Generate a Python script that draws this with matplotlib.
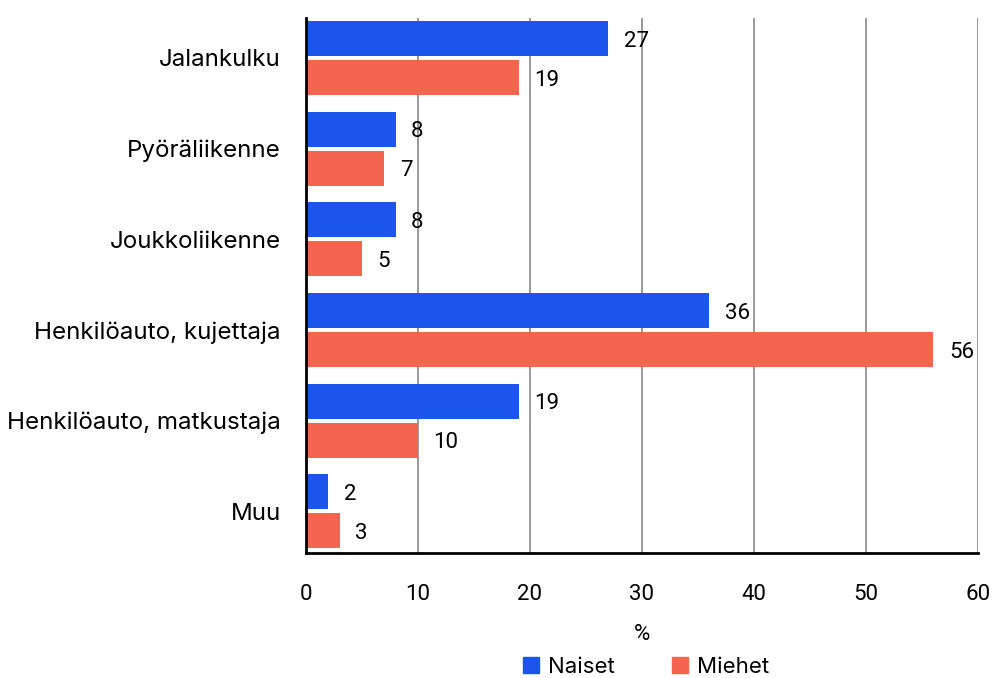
import numpy as np
import matplotlib.pyplot as plt
from matplotlib.patches import Patch

plt.rcParams['font.family'] = ['Roboto', 'DejaVu Sans']

# data
categories = ['Jalankulku', 'Pyöräliikenne', 'Joukkoliikenne',
              'Henkilöauto, kujettaja', 'Henkilöauto, matkustaja', 'Muu']
naiset = [27, 8, 8, 36, 19, 2]
miehet = [19, 7, 5, 56, 10, 3]

blue = '#1B55EB'
red = '#F3654F'

fig = plt.figure(figsize=(9.94, 6.78), dpi=100)
ax = fig.add_axes([0.3078, 0.1844, 0.6761, 0.7891])

y = np.arange(len(categories))
h = 0.386
off = 0.215
ax.barh(y - off, naiset, height=h, color=blue, zorder=3)
ax.barh(y + off, miehet, height=h, color=red, zorder=3)

for yi, v in zip(y, naiset):
    ax.text(v + 1.4, yi - off + 0.03, str(v), va='center', ha='left', fontsize=16)
for yi, v in zip(y, miehet):
    ax.text(v + 1.4, yi + off + 0.03, str(v), va='center', ha='left', fontsize=16)

ax.set_xlim(0, 60)
ax.set_ylim(5.46, -0.44)
ax.set_xticks(range(0, 61, 10))
ax.set_yticks(y)
ax.set_yticklabels(categories, family=['Inter', 'DejaVu Sans'], fontsize=17.4)
ax.tick_params(axis='both', length=0)
ax.tick_params(axis='x', labelsize=16, pad=22)
ax.tick_params(axis='y', pad=18)

ax.grid(axis='x', color='#888888', linewidth=1.2, zorder=0)
for s in ['top', 'right']:
    ax.spines[s].set_visible(False)
ax.spines['left'].set_linewidth(2)
ax.spines['bottom'].set_linewidth(2)
ax.spines['left'].set_zorder(4)

ax.set_xlabel('%', fontsize=16, labelpad=14)

handles = [Patch(color=blue, label='Naiset'), Patch(color=red, label='Miehet')]
fig.legend(handles=handles, loc='lower center', bbox_to_anchor=(0.65, -0.028),
           ncol=2, frameon=False, prop={'family': ['Inter', 'DejaVu Sans'], 'size': 16},
           handlelength=0.7, handleheight=0.7, handletextpad=0.4, columnspacing=2.6)

fig.savefig('out.png', dpi=100)
